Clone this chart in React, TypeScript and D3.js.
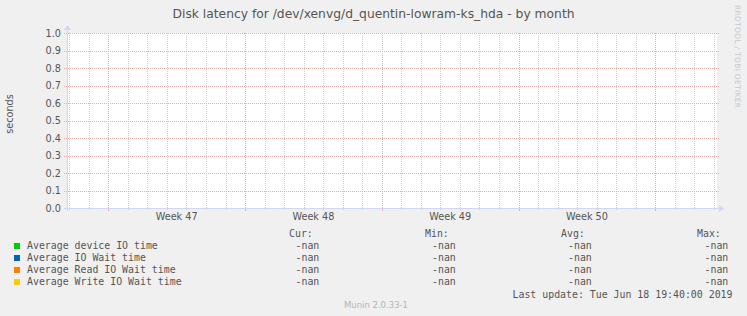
import React from "react";
import * as d3 from "d3";

const TITLE = "Disk latency for /dev/xenvg/d_quentin-lowram-ks_hda - by month";
const Y_LABEL = "seconds";
const Y_TICKS = [0, 0.1, 0.2, 0.3, 0.4, 0.5, 0.6, 0.7, 0.8, 0.9, 1.0];
const Y_DOMAIN = [0, 1];
const TIME_START = Date.UTC(2019, 10, 15, 21, 16);
const TIME_END = Date.UTC(2019, 11, 19, 3, 47);
const SERIES_NAMES = [
  "Average device IO time",
  "Average IO Wait time",
  "Average Read IO Wait time",
  "Average Write IO Wait time",
];
const SERIES_COLORS = ["#00CC00", "#0066B3", "#FF8000", "#FFCC00"];
const STAT_HEADERS = ["Cur:", "Min:", "Avg:", "Max:"];
const CUR = ["-nan", "-nan", "-nan", "-nan"];
const MIN = ["-nan", "-nan", "-nan", "-nan"];
const AVG = ["-nan", "-nan", "-nan", "-nan"];
const MAX = ["-nan", "-nan", "-nan", "-nan"];
const LAST_UPDATE = "Last update: Tue Jun 18 19:40:00 2019";
const VERSION = "Munin 2.0.33-1";
const SIDE_TEXT = "RRDTOOL / TOBI OETIKER";

const W = 747;
const H = 316;
const L = 67;
const R = 717;
const T = 33;
const B = 208;
const DAY = 86400000;

export default function App() {
  const x = d3.scaleUtc().domain([TIME_START, TIME_END]).range([L, R]);
  const y = d3.scaleLinear().domain(Y_DOMAIN).range([B, T]);
  const days = d3.utcDay.range(new Date(TIME_START), new Date(TIME_END));
  const mondays = d3.utcMonday.range(new Date(TIME_START), new Date(TIME_END));
  const minorDays = days.filter((d) => d.getUTCDay() !== 1);
  const fmtWeek = d3.utcFormat("Week %V");
  const weekLabels = mondays
    .map((m) => ({ m, mid: new Date(+m + 3.5 * DAY) }))
    .filter((w) => +w.m + 7 * DAY <= TIME_END);

  const sans = "'DejaVu Sans', sans-serif";
  const mono = "'DejaVu Sans Mono', monospace";
  const fontColor = "#555";
  const axisColor = "#CFD6F8";
  const mgrid = "#F7A8A8";
  const grid = "#D0D0D0";
  const px = (v: number) => Math.round(v) + 0.5;

  const colX = [289, 425, 561, 697];
  const valX = [295.5, 432, 568, 704.5];
  const rowY = [248.5, 260.5, 272.5, 284.5];
  const stats = [CUR, MIN, AVG, MAX];

  return (
    <svg width={W} height={H} style={{ position: "absolute", left: 0, top: 0 }}>
      <rect x={0} y={0} width={W} height={H} fill="#F0F0F0" />
      <rect x={L} y={T} width={R - L} height={B - T + 1} fill="#FFFFFF" />
      {/* minor vertical grid */}
      {minorDays.map((d, i) => (
        <g key={"mg" + i}>
          <line x1={px(x(d))} x2={px(x(d))} y1={T} y2={B}
            stroke={grid} strokeDasharray="1,1" />
          <line x1={px(x(d))} x2={px(x(d))} y1={B} y2={B + 2}
            stroke={grid} />
        </g>
      ))}
      {/* major vertical grid */}
      {mondays.map((d, i) => (
        <g key={"Mg" + i}>
          <line x1={px(x(d))} x2={px(x(d))} y1={T} y2={B}
            stroke={mgrid} strokeDasharray="1,1" />
          <line x1={px(x(d))} x2={px(x(d))} y1={B} y2={B + 3}
            stroke={mgrid} />
        </g>
      ))}
      {/* horizontal grid */}
      {Y_TICKS.map((t, i) => (
        <g key={"h" + i}>
          <line x1={L - 3} x2={R + 2} y1={px(y(t))} y2={px(y(t))}
            stroke={mgrid} strokeDasharray="1,1" />
          <text x={61} y={y(t) + 0.5} dy="0.35em" textAnchor="end" fontFamily={sans}
            fontSize={9.7} fill={fontColor}>{t.toFixed(1)}</text>
        </g>
      ))}
      {/* axes */}
      <line x1={L - 3} x2={R + 2} y1={B + 0.5} y2={B + 0.5} stroke={axisColor} />
      <line x1={L + 0.5} x2={L + 0.5} y1={B + 3} y2={T - 3} stroke={axisColor} />
      <path d={`M${R + 2},${B - 3} L${R + 7},${B + 0.5} L${R + 2},${B + 4} Z`} fill={axisColor} />
      <path d={`M${L - 3},${T - 3} L${L + 0.5},${T - 8} L${L + 4},${T - 3} Z`} fill={axisColor} />
      {weekLabels.map((w, i) => (
        <text key={"w" + i} x={x(w.mid)} y={217} dy="0.35em" textAnchor="middle"
          fontFamily={sans} fontSize={9.7} fill={fontColor}>{fmtWeek(w.m)}</text>
      ))}
      {/* title */}
      <text x={373.5} y={14} dy="0.35em" textAnchor="middle" fontFamily={sans}
        fontSize={12.3} fill={fontColor}>{TITLE}</text>
      <text transform={`translate(10,114) rotate(-90)`} textAnchor="middle"
        dy="0.35em" fontFamily={sans} fontSize={9.7} fill={fontColor}>{Y_LABEL}</text>
      <text transform={`translate(738,5) rotate(90)`} textAnchor="start" dy="0.35em"
        fontFamily={sans} fontSize={7.5} fill="#C8C8C8" textLength={103}
        lengthAdjust="spacing">{SIDE_TEXT}</text>
      {/* legend */}
      {STAT_HEADERS.map((h, i) => (
        <text key={"sh" + i} x={colX[i]} y={236.5} fontFamily={mono} fontSize={9.9}
          fill={fontColor}>{h}</text>
      ))}
      {SERIES_NAMES.map((n, i) => (
        <g key={"s" + i}>
          <rect x={14} y={rowY[i] - 5.5} width={6} height={6} fill={SERIES_COLORS[i]} />
          <text x={27} y={rowY[i]} fontFamily={mono} fontSize={9.9} fill={fontColor}>{n}</text>
          {stats.map((s, j) => (
            <text key={j} x={valX[j]} y={rowY[i]} fontFamily={mono} fontSize={9.9}
              fill={fontColor}>{s[i]}</text>
          ))}
        </g>
      ))}
      <text x={732.5} y={297.5} textAnchor="end" fontFamily={mono} fontSize={9.9}
        fill={fontColor}>{LAST_UPDATE}</text>
      <text x={376} y={305} dy="0.35em" textAnchor="middle" fontFamily={sans} fontSize={8.5}
        fill="#B4B4B4">{VERSION}</text>
    </svg>
  );
}
